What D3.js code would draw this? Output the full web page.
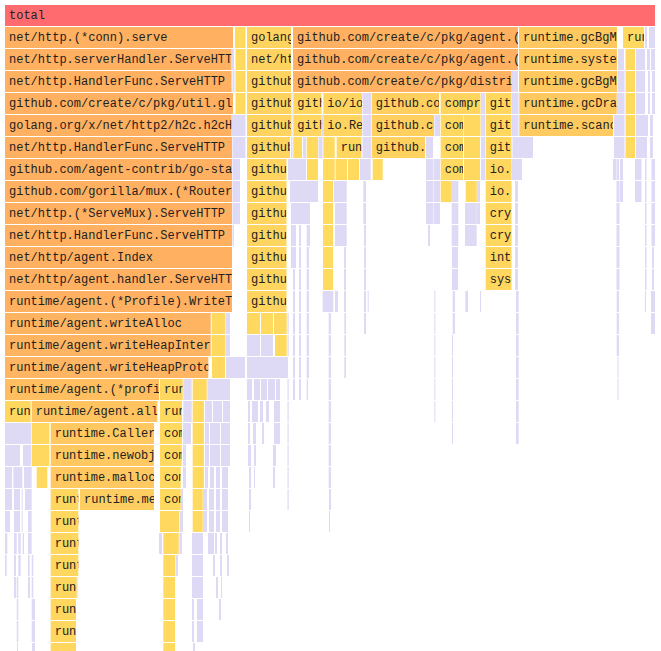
<!DOCTYPE html>
<html>
<head>
<meta charset="utf-8">
<script src="https://cdn.jsdelivr.net/npm/d3@7"></script>
<style>
  body { margin: 0; background: #ffffff; }
  svg { display: block; }
</style>
</head>
<body>
<svg id="chart" width="661" height="651"></svg>
<script>
// ---- DATA (flame graph levels: [offset, samples, frame name]) ----
const totalSamples = 6510;

const levels = [
  [[0, 6510, "total"]],
  [[0, 2290, "net/http.(*conn).serve"], [2300, 115, "runtime.main"], [2420, 450, "golang.org/x/net/http2.(*serverConn).runHandler"], [2880, 2260, "github.com/create/c/pkg/agent.(*Ingester).Run"], [5140, 990, "runtime.gcBgMarkWorker"], [6180, 220, "runtime.mstart"]],
  [[0, 2275, "net/http.serverHandler.ServeHTTP"], [2305, 110, "runtime.gcenable"], [2420, 450, "net/http.HandlerFunc.ServeHTTP"], [2880, 2260, "github.com/create/c/pkg/agent.(*Ingester).upload"], [5140, 990, "runtime.systemstack"], [6205, 105, "runtime.mstart1"]],
  [[0, 2275, "net/http.HandlerFunc.ServeHTTP"], [2305, 110, "runtime.gcenable.func1"], [2420, 450, "github.com/create/c/pkg/util.glob..func1"], [2880, 2195, "github.com/create/c/pkg/distributor.(*Distributor).Push"], [5140, 990, "runtime.gcBgMarkWorker.func2"], [6205, 105, "runtime.schedule"]],
  [[0, 2290, "github.com/create/c/pkg/util.globalHandler"], [2305, 110, "runtime.bgsweep"], [2420, 450, "github.com/create/c/pkg/util.WrapHandler.func1"], [2883, 292, "github.com/create/c/pkg/distributor.(*Distributor).sendSamples"], [3183, 397, "io/ioutil.ReadAll"], [3667, 683, "github.com/create/c/pkg/convert.ParsePprof"], [4357, 408, "compress/gzip.NewReader"], [4807, 268, "github.com/create/c/pkg/storage.(*Storage).Put"], [5143, 984, "runtime.gcDrain"], [6205, 105, "runtime.findrunnable"]],
  [[0, 2275, "golang.org/x/net/http2/h2c.h2cHandler.ServeHTTP"], [2420, 450, "github.com/create/c/pkg/server.(*Ingest).ServeHTTP"], [2883, 292, "github.com/create/c/pkg/distributor.(*Distributor).push"], [3183, 397, "io.ReadAll"], [3667, 633, "github.com/create/c/pkg/convert.parse"], [4357, 233, "compress/gzip.(*Reader).readHeader"], [4585, 180, "compress/flate.NewReader"], [4807, 268, "github.com/create/c/pkg/storage.(*Storage).put"], [5143, 947, "runtime.scanobject"], [6205, 105, "runtime.stopm"]],
  [[0, 2280, "net/http.HandlerFunc.ServeHTTP"], [2420, 440, "github.com/create/c/pkg/server.(*Ingest).ingest"], [2883, 97, "github.com/create/c/pkg/distributor.encode"], [3017, 123, "github.com/create/c/pkg/distributor.compress"], [3183, 124, "bytes.(*Buffer).ReadFrom"], [3317, 258, "runtime.growslice"], [3667, 543, "github.com/create/c/pkg/convert.decode"], [4357, 233, "compress/gzip.(*Reader).Read"], [4590, 170, "compress/flate.(*decompressor).init"], [4807, 268, "github.com/create/c/pkg/storage.(*Storage).write"], [6205, 105, "runtime.notesleep"]],
  [[0, 2280, "github.com/agent-contrib/go-stats/middleware.Handler"], [2420, 405, "github.com/create/c/pkg/parser.(*Parser).Put"], [3020, 120, "compress/gzip.(*Writer).Write"], [3180, 127, "bytes.(*Buffer).grow"], [3305, 125, "runtime.mallocgc"], [3430, 120, "runtime.memmove"], [3677, 110, "runtime.newobject"], [4357, 233, "compress/flate.(*decompressor).Read"], [4590, 170, "compress/flate.fixedHuffmanDecoderInit"], [4807, 268, "io.ReadFull"]],
  [[0, 2280, "github.com/gorilla/mux.(*Router).ServeHTTP"], [2420, 405, "github.com/create/c/pkg/convert.ParseTrees"], [3180, 110, "runtime.makeslice"], [4357, 120, "compress/flate.(*decompressor).nextBlock"], [4607, 120, "sync.(*Once).Do"], [4807, 268, "io.ReadAtLeast"]],
  [[0, 2280, "net/http.(*ServeMux).ServeHTTP"], [2420, 405, "github.com/create/c/pkg/storage.(*Storage).Put"], [3180, 110, "runtime.mallocgc"], [4807, 268, "crypto/tls.(*Conn).Read"]],
  [[0, 2280, "net/http.HandlerFunc.ServeHTTP"], [2420, 405, "github.com/create/c/pkg/storage/segment.(*Segment).Put"], [3180, 110, "runtime.(*mcache).refill"], [4807, 268, "crypto/tls.(*Conn).readRecord"]],
  [[0, 2280, "net/http/agent.Index"], [2420, 405, "github.com/create/c/pkg/storage/tree.(*Tree).Insert"], [3180, 110, "runtime.(*mcentral).cacheSpan"], [4807, 268, "internal/poll.(*FD).Read"]],
  [[0, 2280, "net/http/agent.handler.ServeHTTP"], [2420, 405, "github.com/create/c/pkg/storage/tree.(*Tree).InsertStack"], [3180, 110, "runtime.(*mcentral).grow"], [4807, 268, "syscall.Read"]],
  [[0, 2280, "runtime/agent.(*Profile).WriteTo"], [2420, 405, "github.com/create/c/pkg/storage/tree.(*treeNode).insert"]],
  [[0, 2067, "runtime/agent.writeAlloc"], [2067, 143, "runtime/agent.(*Profile).Count"], [2420, 140, "runtime.growslice"], [2560, 130, "runtime.mapaccess2"], [2690, 137, "sort.Search"]],
  [[0, 2067, "runtime/agent.writeHeapInternal"], [2067, 143, "runtime/agent.(*Profile).Count.func1"], [2700, 127, "sort.Search.func1"]],
  [[0, 2043, "runtime/agent.writeHeapProto"], [2070, 140, "runtime.mProf_Flush"]],
  [[0, 1550, "runtime/agent.(*profileBuilder).appendLocsForStack"], [1550, 237, "runtime.mapaccess2_fast64"], [1877, 150, "runtime/agent.(*profileBuilder).pbSample"]],
  [[0, 267, "runtime.mapaccess2_fast64"], [267, 1266, "runtime/agent.allFrames"], [1550, 230, "runtime.mapassign_fast64"], [1877, 123, "runtime/agent.(*protobuf).uint64s"]],
  [[267, 186, "runtime.CallersFrames"], [457, 1043, "runtime.Callers"], [1550, 230, "compress/flate.(*compressor).write"], [1877, 123, "runtime/agent.(*protobuf).varint"]],
  [[267, 186, "runtime.(*Frames).Next"], [457, 1043, "runtime.newobject"], [1550, 227, "compress/flate.(*compressor).deflate"], [1877, 123, "runtime.growslice"]],
  [[317, 116, "runtime.funcline1"], [457, 1043, "runtime.mallocgc"], [1550, 217, "compress/flate.(*compressor).writeBlock"], [1877, 123, "runtime.mallocgc"]],
  [[457, 286, "runtime.(*mcache).nextFree"], [750, 750, "runtime.memclrNoHeapPointers"], [1550, 217, "compress/flate.(*huffmanBitWriter).writeBlock"], [1877, 110, "runtime.memmove"]],
  [[457, 286, "runtime.(*mcache).refill"], [1550, 203, "compress/flate.(*huffmanBitWriter).writeTokens"], [1877, 110, "runtime.(*mcache).nextFree"]],
  [[457, 286, "runtime.(*mcentral).cacheSpan"], [1583, 164, "compress/flate.(*huffmanBitWriter).writeCode"]],
  [[457, 286, "runtime.(*mcentral).grow"], [1583, 130, "compress/flate.(*huffmanBitWriter).writeBits"]],
  [[457, 270, "runtime.(*mheap).alloc"], [1583, 127, "compress/flate.(*huffmanBitWriter).flush"]],
  [[457, 263, "runtime.systemstack"], [1583, 127, "bufio.(*Writer).Write"]],
  [[457, 263, "runtime.(*mheap).alloc.func1"], [1583, 127, "bytes.(*Buffer).Write"]],
  [[457, 263, "runtime.(*mheap).allocSpan"], [1583, 127, "runtime.growslice"]]
];

// narrow frames below the detail threshold: flat [offset, samples, ...] per level
const fadedLevels = [
  [],
  [6400, 30, 6440, 70],
  [2270, 30, 6130, 70, 6310, 100, 6420, 40, 6460, 50],
  [2275, 30, 5070, 70, 6125, 80, 6310, 100, 6430, 30, 6470, 40],
  [2863, 22, 3575, 95, 4760, 50, 5070, 75, 6120, 85, 6310, 100, 6430, 30, 6470, 40],
  [2270, 145, 2863, 22, 3170, 20, 3575, 95, 4295, 65, 4760, 50, 5070, 75, 6090, 115, 6310, 130, 6450, 40],
  [2275, 140, 2860, 25, 2980, 40, 3135, 50, 3575, 95, 4210, 80, 4760, 50, 5075, 215, 6090, 115, 6310, 120, 6450, 40],
  [2275, 85, 2830, 190, 3550, 117, 4210, 80, 4285, 75, 4760, 50, 5070, 110, 6080, 45, 6120, 30, 6150, 40, 6300, 75, 6400, 25, 6465, 45],
  [2275, 85, 2850, 290, 3290, 137, 3583, 37, 4210, 80, 4285, 75, 4467, 76, 4717, 43, 5100, 40, 6115, 40, 6150, 40, 6300, 75, 6400, 25, 6465, 45],
  [2275, 85, 2860, 200, 3300, 127, 3583, 37, 4210, 80, 4285, 75, 4467, 76, 4600, 127, 4717, 43, 5100, 40, 6115, 40, 6400, 25, 6465, 45],
  [2275, 25, 2860, 60, 2940, 30, 3017, 43, 3300, 127, 3590, 30, 4230, 30, 4467, 76, 4600, 127, 5100, 40, 6115, 40, 6400, 25, 6465, 45],
  [2860, 60, 2940, 30, 3017, 33, 3390, 30, 3590, 30, 4470, 70, 5100, 40, 6115, 40, 6400, 25, 6470, 30],
  [2880, 30, 2940, 30, 3017, 33, 3390, 30, 3590, 30, 4470, 70, 5100, 40, 6115, 40, 6400, 25, 6470, 30],
  [2880, 30, 2940, 30, 3017, 33, 3177, 116, 3300, 40, 3390, 30, 3590, 30, 3627, 20, 4293, 20, 4477, 33, 4603, 37, 4750, 20, 5110, 37, 6117, 33, 6400, 20, 6460, 50],
  [2205, 55, 2825, 22, 2880, 30, 2940, 30, 3017, 33, 3237, 33, 3393, 27, 3590, 30, 4293, 20, 4477, 33, 5110, 37, 6117, 33, 6460, 50],
  [2205, 55, 2420, 140, 2560, 130, 2825, 22, 2880, 30, 2940, 30, 3017, 33, 3237, 33, 3393, 27, 4293, 20, 4470, 20, 5110, 37, 6117, 33],
  [2210, 200, 2420, 420, 2880, 30, 2940, 30, 3017, 33, 3237, 33, 3393, 27, 4293, 20, 4470, 20, 5110, 37, 6125, 20],
  [1783, 94, 2023, 237, 2420, 60, 2490, 70, 2560, 70, 2630, 80, 2710, 50, 2825, 22, 2880, 30, 2940, 30, 3017, 23, 3237, 33, 4293, 20, 4470, 20, 5110, 37, 6125, 20],
  [1783, 94, 2000, 80, 2080, 100, 2180, 80, 2430, 30, 2470, 70, 2550, 40, 2610, 40, 2690, 70, 2825, 22, 3237, 33, 4293, 20, 4470, 20, 5110, 37],
  [0, 270, 1780, 90, 2000, 50, 2050, 110, 2160, 100, 2430, 30, 2480, 40, 2570, 30, 2690, 70, 2825, 22, 3237, 33, 4470, 20, 5110, 37],
  [0, 160, 180, 90, 1780, 40, 2000, 50, 2050, 110, 2160, 100, 2430, 40, 2490, 30, 2680, 40, 2825, 22, 3237, 33],
  [0, 80, 83, 100, 190, 87, 1780, 40, 2000, 40, 2050, 50, 2110, 50, 2170, 70, 2440, 30, 2490, 20, 2680, 30, 2825, 22, 3237, 33],
  [0, 80, 90, 70, 167, 20, 200, 77, 1760, 30, 1980, 50, 2040, 60, 2110, 50, 2170, 70, 2440, 30, 2825, 22, 3240, 30],
  [0, 60, 90, 70, 167, 20, 230, 47, 1750, 40, 1980, 50, 2040, 60, 2110, 50, 2170, 70, 2440, 20, 3240, 20],
  [0, 33, 90, 37, 133, 34, 177, 23, 230, 47, 1540, 40, 1743, 37, 1870, 120, 2030, 70, 2100, 30, 2150, 30, 2210, 30],
  [0, 27, 90, 30, 133, 34, 230, 27, 267, 26, 1710, 30, 1870, 120, 2080, 30, 2150, 30, 2220, 30],
  [90, 30, 117, 26, 230, 30, 267, 26, 717, 20, 1870, 120, 2110, 30, 2160, 20],
  [117, 26, 267, 43, 1870, 30, 1920, 70, 2140, 30],
  [117, 26, 267, 43, 1870, 30, 1920, 70],
  [120, 20, 270, 40, 1880, 30]
];

// ---- DRAWING ----
const width = 661, height = 651;
const svg = d3.select("#chart");
const x = d3.scaleLinear().domain([0, totalSamples]).range([5, 656]);
const y = d3.scaleLinear().domain([0, 1]).range([5, 27]);   // one row per stack depth
const barHeight = 21;
const charWidth = 7.2;   // 12px monospace advance
const heat = d3.scaleLinear().domain([0, 2300]).range(["#ffdc5f", "#ffb061"]).clamp(true);
const rootColor = "#ff6b6f";
const fadedColor = "#dedaf6";

const bars = levels.flatMap((lvl, depth) =>
  lvl.map(([start, value, name]) => ({ depth, start, value, name })));
const fadedBars = fadedLevels.flatMap((lvl, depth) =>
  d3.range(0, lvl.length, 2).map(i => ({ depth, start: lvl[i], value: lvl[i + 1] })));

const barW = d => Math.max(x(d.start + d.value) - x(d.start) - 1, 0.8);

svg.append("g")
  .selectAll("rect")
  .data(fadedBars)
  .join("rect")
  .attr("x", d => x(d.start))
  .attr("y", d => y(d.depth))
  .attr("width", barW)
  .attr("height", barHeight)
  .attr("fill", fadedColor);

bars.forEach((d, i) => { d.id = "clip" + i; });

svg.append("defs")
  .selectAll("clipPath")
  .data(bars)
  .join("clipPath")
  .attr("id", d => d.id)
  .append("rect")
  .attr("x", d => x(d.start))
  .attr("y", d => y(d.depth))
  .attr("width", barW)
  .attr("height", barHeight);

const frame = svg.append("g")
  .selectAll("g")
  .data(bars)
  .join("g");

frame.append("rect")
  .attr("x", d => x(d.start))
  .attr("y", d => y(d.depth))
  .attr("width", barW)
  .attr("height", barHeight)
  .attr("fill", d => d.depth === 0 ? rootColor : heat(d.value));

// labels only on frames wide enough and whose text row lies inside the view
frame.filter(d => barW(d) >= 20 && y(d.depth) + 15 <= height)
  .append("text")
  .attr("clip-path", d => "url(#" + d.id + ")")
  .attr("x", d => x(d.start) + 4)
  .attr("y", d => y(d.depth) + 14)
  .attr("font-family", "'Courier New', 'Liberation Mono', monospace")
  .attr("font-size", 12)
  .attr("fill", "#222")
  .text(d => {
    const fit = Math.ceil((barW(d) - 4) / charWidth);
    return d.name.length > fit ? d.name.slice(0, fit) : d.name;
  });
</script>
</body>
</html>
